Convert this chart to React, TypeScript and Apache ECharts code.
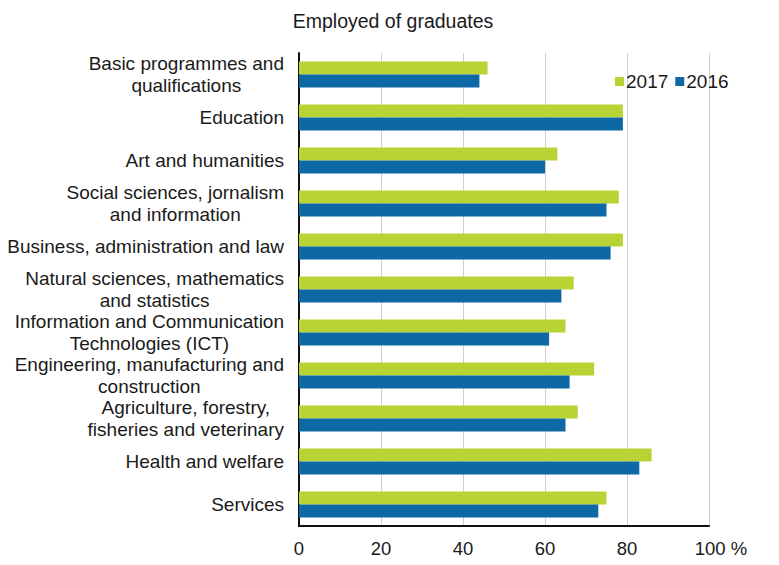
import React, { useEffect, useRef } from "react";
import * as echarts from "echarts";

const categories = [
  "Basic programmes and\nqualifications",
  "Education",
  "Art and humanities",
  "Social sciences, jornalism\nand information",
  "Business, administration and law",
  "Natural sciences, mathematics\nand statistics",
  "Information and Communication\nTechnologies (ICT)",
  "Engineering, manufacturing and\nconstruction",
  "Agriculture, forestry,\nfisheries and veterinary",
  "Health and welfare",
  "Services",
];

const values2017 = [46, 79, 63, 78, 79, 67, 65, 72, 68, 86, 75];
const values2016 = [44, 79, 60, 75, 76, 64, 61, 66, 65, 83, 73];

const xTicks = [0, 20, 40, 60, 80, 100];
const xUnit = "%";

const FONT = "'Liberation Sans', Arial, sans-serif";
const GREEN = "#b7d434";
const BLUE = "#0d68a5";

export default function App() {
  const ref = useRef<HTMLDivElement>(null);
  useEffect(() => {
    if (!ref.current) return;
    const chart = echarts.init(ref.current, null, { renderer: "svg" });
    const maxTick = xTicks[xTicks.length - 1];
    chart.setOption({
      animation: false,
      backgroundColor: "#ffffff",
      title: {
        text: "Employed of graduates",
        left: 388,
        textAlign: "center",
        top: 6,
        textStyle: { fontFamily: FONT, fontSize: 19.5, fontWeight: "normal", color: "#1a1a1a" },
      },
      legend: {
        left: 615,
        top: 72,
        padding: 0,
        itemWidth: 9,
        itemHeight: 9,
        itemGap: 7,
        icon: "rect",
        textStyle: { fontFamily: FONT, fontSize: 19, color: "#1a1a1a", padding: [0, 0, 0, -3] },
        data: ["2017", "2016"],
      },
      grid: { left: 299, right: 70, top: 53, bottom: 39, containLabel: false },
      xAxis: {
        type: "value",
        min: xTicks[0],
        max: maxTick,
        interval: 20,
        axisLine: { show: true, lineStyle: { color: "#111", width: 2 } },
        axisTick: { show: false },
        axisLabel: {
          fontFamily: FONT,
          fontSize: 18.5,
          color: "#1a1a1a",
          margin: 13,
          formatter: (v: number) =>
            v === maxTick ? `{m|${v}}{u| ${xUnit}}` : `{n|${v}}`,
          rich: {
            n: { fontFamily: FONT, fontSize: 18.5, color: "#1a1a1a" },
            m: { fontFamily: FONT, fontSize: 18.5, color: "#1a1a1a", padding: [0, 0, 0, 24] },
            u: { fontFamily: FONT, fontSize: 18.5, color: "#1a1a1a" },
          },
        },
        splitLine: { show: true, lineStyle: { color: "#cfcfcf", width: 1 } },
      },
      yAxis: {
        type: "category",
        inverse: true,
        data: categories,
        axisLine: { show: true, lineStyle: { color: "#111", width: 2 } },
        axisTick: { show: false },
        splitLine: { show: false },
        axisLabel: {
          margin: 15,
          align: "right",
          fontFamily: FONT,
          fontSize: 19,
          color: "#1a1a1a",
          lineHeight: 22.5,
          formatter: (v: string) =>
            v
              .split("\n")
              .map((l) => `{c|${l}}`)
              .join("\n"),
          rich: {
            c: {
              align: "center",
              fontFamily: FONT,
              fontSize: 19,
              lineHeight: 22.5,
              color: "#1a1a1a",
            },
          },
        },
      },
      series: [
        {
          name: "2017",
          type: "bar",
          data: values2017,
          barWidth: 13,
          barGap: "0%",
          itemStyle: { color: GREEN },
        },
        {
          name: "2016",
          type: "bar",
          data: values2016,
          barWidth: 13,
          barGap: "0%",
          itemStyle: { color: BLUE },
        },
      ],
    });
    return () => chart.dispose();
  }, []);
  return <div ref={ref} style={{ width: 779, height: 565, position: "absolute", left: 0, top: 0 }} />;
}
